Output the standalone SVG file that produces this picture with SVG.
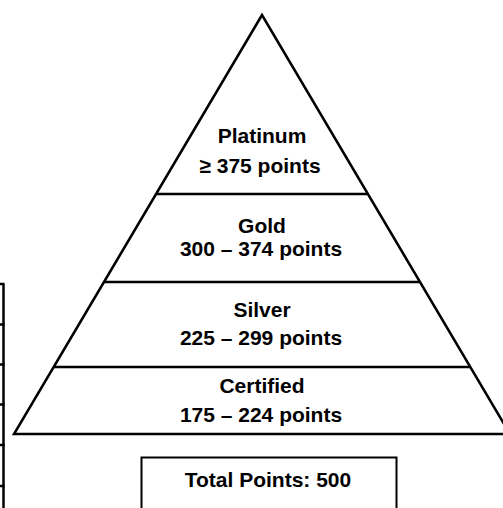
<svg xmlns="http://www.w3.org/2000/svg" width="503" height="508" viewBox="0 0 503 508">
<style>
.ln{stroke:#000;stroke-width:2.5;fill:none}
.bx{stroke:#000;stroke-width:2;fill:#fff}
.t{font-family:"Liberation Sans",Arial,sans-serif;font-weight:bold;font-size:21px;fill:#000;text-anchor:middle}
</style>
<rect width="503" height="508" fill="#fff"/>
<g id="table-edge" class="ln" stroke-width="2">
<line x1="3.5" y1="284" x2="3.5" y2="508"/>
<line x1="0" y1="284" x2="4.5" y2="284"/>
<line x1="0" y1="324.5" x2="4.5" y2="324.5"/>
<line x1="0" y1="364.5" x2="4.5" y2="364.5"/>
<line x1="0" y1="404.5" x2="4.5" y2="404.5"/>
<line x1="0" y1="445" x2="4.5" y2="445"/>
<line x1="0" y1="486" x2="4.5" y2="486"/>
</g>
<g id="pyramid">
<polygon class="ln" points="262,15 14,434 510,434"/>
<line class="ln" x1="156" y1="194" x2="368" y2="194"/>
<line class="ln" x1="104" y1="282" x2="420" y2="282"/>
<line class="ln" x1="53.5" y1="367" x2="470.5" y2="367"/>
</g>
<g id="platinum">
<text class="t" x="262" y="143">Platinum</text>
<text class="t" x="260" y="173">≥ 375 points</text>
</g>
<g id="gold">
<text class="t" x="262" y="233">Gold</text>
<text class="t" x="261" y="256">300 – 374 points</text>
</g>
<g id="silver">
<text class="t" x="262" y="317">Silver</text>
<text class="t" x="261" y="345">225 – 299 points</text>
</g>
<g id="certified">
<text class="t" x="262" y="392.5">Certified</text>
<text class="t" x="261" y="421.5">175 – 224 points</text>
</g>
<g id="total">
<rect class="bx" x="141.5" y="457.5" width="255" height="60"/>
<text class="t" x="268" y="487">Total Points: 500</text>
</g>
</svg>
